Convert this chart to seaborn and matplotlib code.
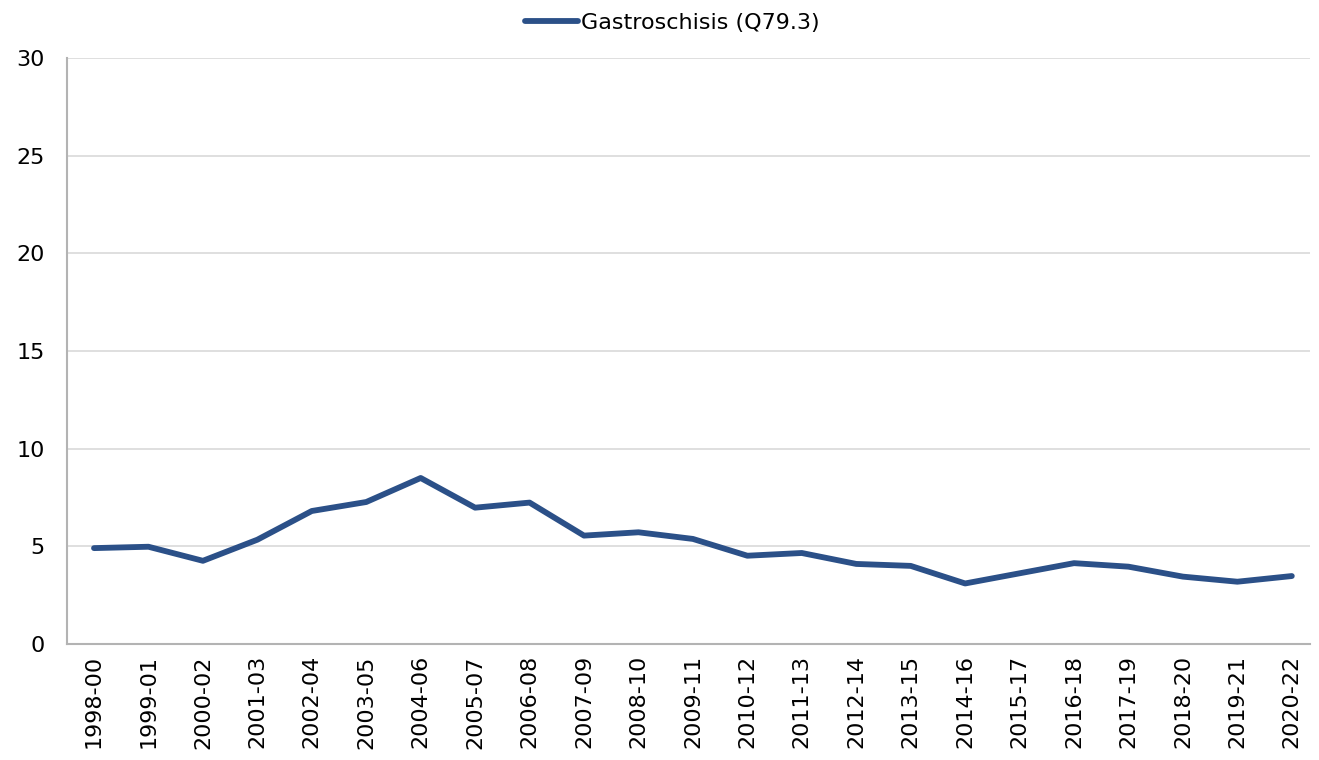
import matplotlib
matplotlib.use("Agg")
import matplotlib.pyplot as plt
import seaborn as sns
import pandas as pd

# ── data ──
periods = [
    "1998-00", "1999-01", "2000-02", "2001-03", "2002-04", "2003-05",
    "2004-06", "2005-07", "2006-08", "2007-09", "2008-10", "2009-11",
    "2010-12", "2011-13", "2012-14", "2013-15", "2014-16", "2015-17",
    "2016-18", "2017-19", "2018-20", "2019-21", "2020-22",
]
rates = [
    4.91, 4.98, 4.26, 5.34, 6.81, 7.27, 8.50, 6.98, 7.24, 5.55, 5.72, 5.38,
    4.52, 4.66, 4.10, 4.00, 3.10, 3.62, 4.14, 3.96, 3.45, 3.19, 3.48,
]
series_name = "Gastroschisis (Q79.3)"
y_ticks = [0, 5, 10, 15, 20, 25, 30]

df = pd.DataFrame({"period": periods, "rate": rates, "series": series_name})
df["x"] = range(len(df))

sns.set_style("white")
plt.rcParams["font.family"] = ["DejaVu Sans"]
plt.rcParams["text.color"] = "black"

fig = plt.figure(figsize=(13.19, 7.6), dpi=100)
ax = fig.add_axes([0.0508, 0.1526, 0.9422, 0.7711])

sns.lineplot(data=df, x="x", y="rate", hue="series", palette=["#2B5088"],
             linewidth=4.2, ax=ax, solid_capstyle="round")

ax.set_xlim(-0.496, 22.33)
ax.set_ylim(0, 30)
ax.set_yticks(y_ticks)
ax.set_xticks(df["x"])
ax.set_xticklabels(periods, rotation=90)
ax.tick_params(axis="both", labelsize=16, length=0, colors="black")
ax.tick_params(axis="y", pad=16)
ax.tick_params(axis="x", pad=8)
ax.set_xlabel("")
ax.set_ylabel("")

ax.yaxis.grid(True, color="#d9d9d9", linewidth=1.2)
ax.set_axisbelow(True)
for side in ["top", "right"]:
    ax.spines[side].set_visible(False)
for side in ["left", "bottom"]:
    ax.spines[side].set_color("#b3b3b3")
    ax.spines[side].set_linewidth(1.5)

leg = ax.legend(loc="center", bbox_to_anchor=(0.487, 1.06), frameon=False,
                fontsize=16, handlelength=2.4, handletextpad=0.1)
for t in leg.get_texts():
    t.set_color("black")

plt.savefig("out.png", dpi=100)
plt.close()
